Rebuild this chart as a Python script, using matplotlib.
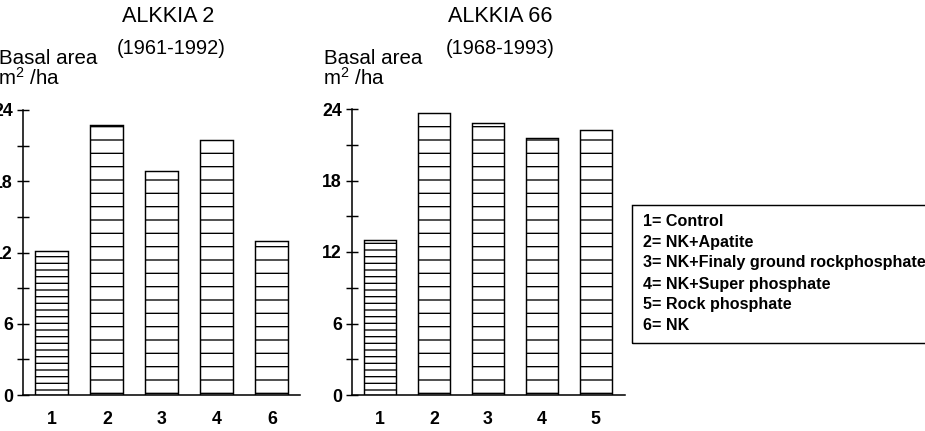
import matplotlib
matplotlib.use('Agg')
import matplotlib.pyplot as plt
from matplotlib.patches import Rectangle

plt.rcParams['font.family'] = ['Liberation Sans', 'DejaVu Sans']
plt.rcParams['mathtext.default'] = 'regular'
plt.rcParams['hatch.linewidth'] = 1.2

# basal area (m2/ha)
left_cats = ['1', '2', '3', '4', '6']
left_vals = [12.1, 22.7, 18.9, 21.5, 13.0]
right_cats = ['1', '2', '3', '4', '5']
right_vals = [13.0, 23.7, 22.8, 21.6, 22.2]

yticks = [0, 6, 12, 18, 24]
yminor = [3, 9, 15, 21]

legend_lines = ['1= Control', '2= NK+Apatite', '3= NK+Finaly ground rockphosphate',
                '4= NK+Super phosphate', '5= Rock phosphate', '6= NK']

W, H = 925, 431
DPI = 80
fig = plt.figure(figsize=(W / DPI, H / DPI), dpi=DPI)


def px_rect(x0, y0, x1, y1):
    return [x0 / W, 1 - y1 / H, (x1 - x0) / W, (y1 - y0) / H]


def panel(rect, cats, vals, xlim):
    ax = fig.add_axes(rect)
    x = range(len(vals))
    bars = ax.bar(x, vals, width=0.6, color='white', edgecolor='black', linewidth=1.3)
    for i, b in enumerate(bars):
        b.set_hatch('--' if i == 0 else '-')
    ax.set_xlim(*xlim)
    ax.set_ylim(0, 24)
    ax.set_xticks(list(x))
    ax.set_xticklabels(cats, fontsize=16, fontweight='bold')
    ax.set_yticks(yticks)
    ax.set_yticks(yminor, minor=True)
    ax.set_yticklabels([str(t) for t in yticks], fontsize=16, fontweight='bold')
    ax.tick_params(axis='y', which='both', direction='inout', length=10, width=1.3, pad=4)
    ax.tick_params(axis='x', length=0, pad=14)
    for s in ['top', 'right']:
        ax.spines[s].set_visible(False)
    for s in ['left', 'bottom']:
        ax.spines[s].set_linewidth(1.4)
    return ax


panel(px_rect(23, 110, 300, 395), left_cats, left_vals, (-0.527, 4.51))
panel(px_rect(352, 109, 625, 395), right_cats, right_vals, (-0.52, 4.54))

# titles
fig.text(168 / W, 1 - 16 / H, 'ALKKIA 2', fontsize=19.5, ha='center', va='center')
fig.text(171 / W, 1 - 48 / H, '(1961-1992)', fontsize=18, ha='center', va='center')
fig.text(500 / W, 1 - 17 / H, 'ALKKIA 66', fontsize=19.5, ha='center', va='center')
fig.text(500 / W, 1 - 49 / H, '(1968-1993)', fontsize=18, ha='center', va='center')

# y labels (left one runs off the page like the scan)
for xr1, xr2 in [(97, 60), (422, 385)]:
    fig.text(xr1 / W, 1 - 58 / H, 'Basal area', fontsize=18.5, ha='right', va='center')
    fig.text(xr2 / W, 1 - 78 / H, 'm$^2$ /ha', fontsize=18.5, ha='right', va='center')

# legend box
fig.add_artist(Rectangle((632 / W, 1 - 343 / H), 320 / W, 138 / H, transform=fig.transFigure,
                         facecolor='none', edgecolor='black', linewidth=1.3))
for i, line in enumerate(legend_lines):
    fig.text(643 / W, 1 - (221 + 21 * i) / H, line, fontsize=14.5, fontweight='bold',
             ha='left', va='center')

fig.savefig('out.png', dpi=DPI)
